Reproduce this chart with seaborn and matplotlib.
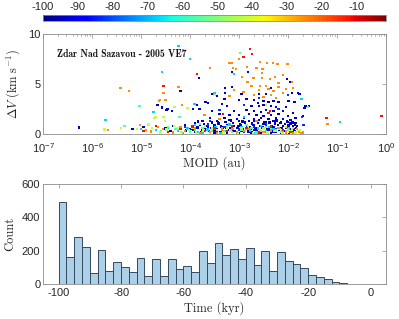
import numpy as np
import pandas as pd
import matplotlib
matplotlib.use('Agg')
import matplotlib.pyplot as plt
import seaborn as sns

# ---- scatter data: log10(MOID [au]), dV [km/s], grouped by time colour ----
# dark blue (~ -94 kyr)
dblue_lm = [-6.27, -5.18, -4.95, -4.67, -4.58, -4.46, -4.37, -4.58, -4.48, -4.2, -3.82, -3.94,
            -3.29, -3.15, -3.15, -3.29, -3.69, -3.63, -3.81, -3.86, -3.54, -3.45, -3.3, -3.35,
            -3.25, -2.82, -2.03, -1.95, -2.35, -2.6, -2.45, -2.95, -1.92, -1.8, -1.77, -3.0,
            -2.85, -2.7, -2.62, -2.5, -2.4, -2.3, -2.2, -1.99, -1.87, -2.75, -2.6, -2.5, -2.35,
            -2.25, -2.05, -1.67, -1.65, -1.57, -3.55, -3.1, -2.85, -2.7, -2.55, -2.45, -2.3,
            -2.1, -1.9, -1.7, -3.4, -3.2, -3.0, -2.8, -2.65, -2.5, -2.35, -2.2, -2.0, -1.85,
            -3.6, -3.3, -3.05, -2.9, -2.7, -2.55, -2.4, -2.25, -2.1, -1.95, -3.75, -3.45, -3.2,
            -3.0, -2.8, -2.6, -2.45, -2.3, -2.15, -2.0, -1.85,
            -3.9, -3.72, -3.55, -3.42, -3.28, -3.12, -2.98, -2.88, -2.74, -2.62, -2.5, -2.38,
            -2.27, -2.16, -2.06, -1.95, -1.86,
            -4.35, -4.1, -3.95, -3.8, -3.66, -3.5, -3.37, -3.24, -3.1, -2.97, -2.84, -2.71,
            -2.58, -2.45, -2.33, -2.21, -2.1, -1.99, -1.9, -1.82,
            -4.5, -4.2, -3.99, -3.85, -3.7, -3.58, -3.45, -3.33, -3.19, -3.05, -2.92, -2.79,
            -2.67, -2.54, -2.42, -2.29, -2.18, -2.04, -1.93, -1.84,
            -4.4, -4.08, -3.9, -3.76, -3.62, -3.48, -3.35, -3.21, -3.08, -2.95, -2.81, -2.69,
            -2.56, -2.43, -2.31, -2.19, -2.07, -1.96, -1.87,
            -3.8, -3.5, -3.25, -3.0, -2.75, -2.55, -2.35, -2.15, -1.98,
            -3.93, -3.78, -3.64, -3.53, -3.39, -3.26, -3.14, -3.02, -2.9, -2.77, -2.65, -2.52,
            -2.4, -2.26, -2.13, -2.0, -1.89,
            -3.84, -3.6, -3.43, -3.17, -2.93, -2.7, -2.48, -2.24, -2.03, -1.91]
dblue_dv = [0.63, 0.5, 0.7, 2.9, 2.7, 2.5, 2.3, 2.6, 2.4, 4.3, 5.6, 2.5,
            4.6, 6.2, 4.7, 4.1, 3.2, 3.1, 2.5, 2.9, 4.0, 3.8, 3.5, 3.0,
            2.8, 6.2, 5.5, 5.2, 4.6, 4.0, 4.0, 4.0, 4.1, 4.1, 4.0, 3.4,
            3.5, 3.4, 3.1, 3.3, 3.2, 3.3, 3.2, 3.3, 3.2, 2.8, 2.8, 2.9, 2.8,
            2.7, 2.7, 2.6, 2.8, 2.8, 2.3, 2.3, 2.4, 2.3, 2.2, 2.4, 2.3,
            2.3, 2.1, 1.8, 2.0, 1.9, 1.9, 2.0, 1.9, 1.8, 1.9, 2.0, 1.8, 1.6,
            1.6, 1.6, 1.5, 1.6, 1.5, 1.6, 1.5, 1.6, 1.5, 1.4, 1.3, 1.3, 1.4,
            1.3, 1.3, 1.4, 1.2, 1.3, 1.2, 1.2, 1.1,
            1.1, 1.0, 1.15, 1.05, 1.2, 1.1, 1.0, 1.15, 1.05, 1.1, 1.0, 1.15,
            1.05, 1.1, 1.0, 1.05, 0.95,
            0.8, 0.85, 0.75, 0.9, 0.8, 0.85, 0.75, 0.9, 0.8, 0.85, 0.75, 0.9,
            0.8, 0.85, 0.75, 0.9, 0.8, 0.85, 0.75, 0.8,
            0.55, 0.6, 0.5, 0.65, 0.55, 0.6, 0.5, 0.65, 0.55, 0.6, 0.5, 0.65,
            0.55, 0.6, 0.5, 0.65, 0.55, 0.6, 0.5, 0.6,
            0.3, 0.35, 0.25, 0.4, 0.3, 0.35, 0.25, 0.4, 0.3, 0.35, 0.25, 0.4,
            0.3, 0.35, 0.25, 0.4, 0.3, 0.35, 0.3,
            0.1, 0.15, 0.05, 0.1, 0.15, 0.05, 0.1, 0.15, 0.1,
            0.45, 0.2, 0.7, 0.4, 0.15, 0.6, 0.35, 0.75, 0.2, 0.5, 0.3, 0.7,
            0.45, 0.2, 0.6, 0.4, 0.5,
            1.25, 1.3, 1.2, 1.35, 1.25, 1.3, 1.2, 1.35, 1.25, 1.15]

# medium blue (~ -83 kyr)
mblue_lm = [-3.6, -3.4, -2.9, -2.6, -2.2, -2.0, -4.1, -3.92, -3.63, -3.3, -3.0, -2.7,
            -2.45, -2.25, -2.02, -1.9, -3.45, -2.9, -1.72, -1.69]
mblue_dv = [1.3, 2.4, 2.9, 3.6, 2.5, 3.9, 0.7, 0.45, 0.95, 0.7, 0.45, 0.7,
            0.95, 0.45, 0.65, 0.2, 0.2, 0.2, 1.7, 0.9]

# cyan (~ -67 kyr)
cyan_lm = [-5.73, -5.0, -4.75, -4.24, -4.0, -4.57, -3.91, -3.5, -1.73, -0.94, -3.1, -2.9,
           -4.7, -4.45, -4.25, -4.05, -3.85, -3.65, -3.48, -3.3, -3.12, -2.95, -2.78,
           -2.62, -2.45, -2.3, -2.12, -1.98, -3.9, -3.2, -2.55,
           -4.15, -3.95, -3.75, -3.55, -3.38, -3.05, -2.85, -2.68, -2.38, -2.2, -2.05]
cyan_dv = [1.4, 0.5, 2.2, 8.8, 7.5, 6.2, 3.0, 4.05, 3.5, 1.2, 6.0, 1.7,
           0.4, 0.65, 0.3, 0.55, 0.2, 0.45, 0.7, 0.3, 0.5, 0.7, 0.35,
           0.55, 0.25, 0.5, 0.3, 0.55, 0.9, 0.95, 0.8,
           0.1, 0.65, 0.15, 0.6, 0.1, 0.15, 0.55, 0.1, 0.7, 0.6, 0.15]

# green (~ -55 kyr)
green_lm = [-5.34, -5.03, -4.22, -2.98, -1.59, -4.6, -4.3, -4.0, -3.75, -3.55, -3.35,
            -3.15, -2.95, -2.75, -2.55, -2.35, -2.15, -2.0, -3.8, -2.85,
            -4.45, -3.9, -3.45, -3.25, -2.65, -2.45, -2.25, -1.9]
green_dv = [0.8, 2.8, 1.7, 8.1, 2.7, 0.3, 0.5, 0.25, 0.6, 0.35, 0.55,
            0.2, 0.4, 0.6, 0.3, 0.5, 0.2, 0.45, 1.0, 0.9,
            0.7, 0.45, 0.1, 0.8, 0.15, 0.7, 0.35, 0.6]

# yellow (~ -42 kyr)
yellow_lm = [-5.75, -5.41, -5.09, -4.85, -4.71, -4.54, -4.05, -4.32, -4.73, -4.51, -3.49,
             -2.45, -4.9, -4.78, -4.62, -4.48, -4.33, -4.18, -4.02, -3.88, -3.73, -3.6,
             -3.45, -3.32, -3.18, -3.02, -2.88, -2.72, -2.58, -2.42, -2.28, -2.12, -1.97,
             -1.85, -1.76, -1.72, -3.7, -2.95,
             -4.25, -3.95, -3.55, -3.25, -2.82, -2.5, -2.18, -2.05, -1.92, -1.8]
yellow_dv = [0.45, 0.6, 0.5, 0.95, 1.7, 1.7, 2.6, 2.7, 1.6, 1.3, 3.9,
             2.9, 0.35, 0.6, 0.15, 0.45, 0.8, 0.2, 0.4, 0.15, 0.35, 0.1,
             0.4, 0.15, 0.35, 0.1, 0.3, 0.1, 0.4, 0.15, 0.3, 0.1, 0.25,
             0.15, 0.4, 0.1, 0.75, 0.6,
             0.55, 0.65, 0.55, 0.6, 0.65, 0.55, 0.5, 0.7, 0.45, 0.3]

# orange (~ -25 kyr)
orange_lm = [-5.67, -5.42, -5.25, -5.02, -4.9, -4.63, -4.5, -4.61, -4.54, -4.24, -4.17,
             -3.71, -3.59, -3.2, -3.0, -3.16, -3.12, -3.06, -2.84, -2.57, -2.43, -2.31,
             -2.22, -2.01, -2.65, -2.52, -2.54, -2.94, -2.71, -2.54, -2.37, -2.27, -2.1,
             -2.83, -2.2, -2.57, -2.4, -2.91, -2.35, -2.1, -1.92,
             -3.1, -2.75, -2.6, -2.45, -2.3, -2.2, -2.05, -2.7, -2.5, -2.25, -3.2, -1.9,
             -4.8, -4.55, -4.35, -4.1, -3.9, -3.6, -3.35, -3.05, -2.8, -2.5, -2.2, -1.9,
             -1.78, -1.74, -2.65, -3.4, -1.2,
             -4.65, -4.2, -3.8, -3.45, -3.15, -2.9, -2.62, -2.35, -2.05, -1.82, -1.7]
orange_dv = [0.4, 4.6, 4.3, 0.9, 0.4, 3.3, 3.4, 3.4, 4.1, 4.7, 2.9,
             1.9, 6.6, 7.1, 7.5, 7.1, 6.6, 6.5, 6.7, 7.2, 7.1, 7.1,
             7.0, 7.0, 6.6, 6.5, 6.1, 5.7, 5.6, 5.6, 5.5, 5.7, 5.9,
             5.2, 5.1, 4.8, 4.5, 4.2, 3.9, 4.1, 5.2,
             4.4, 4.8, 4.4, 4.8, 4.3, 4.7, 4.5, 3.9, 3.7, 3.6, 3.8, 4.6,
             0.25, 0.5, 0.15, 0.3, 0.55, 0.2, 0.45, 0.2, 0.5, 0.2, 0.6, 0.05,
             0.2, 0.05, 1.3, 1.5, 1.0,
             0.7, 0.65, 0.1, 0.1, 0.55, 0.3, 0.1, 0.35, 0.25, 0.5, 0.15]

# red (~ -12 kyr)
red_lm = [-4.95, -4.7, -4.54, -3.86, -2.78, -2.74, -2.91, -2.4, -3.33, -2.37, -1.22,
          -0.1, -4.2, -3.7, -3.15, -2.6, -2.1, -3.5,
          -4.45, -3.95, -3.25, -2.85, -2.35, -1.95]
red_dv = [0.3, 0.8, 4.8, 6.0, 8.5, 8.0, 7.7, 2.1, 2.0, 2.3, 1.6,
          1.8, 0.5, 0.3, 0.75, 0.15, 0.4, 0.55,
          0.2, 0.75, 0.3, 0.6, 0.75, 0.2]

group_time = {'dblue': -94, 'mblue': -83, 'cyan': -67, 'green': -55,
              'yellow': -42, 'orange': -25, 'red': -12}

# ---- histogram of encounter times (2.5 kyr bins, -100 .. 0) ----
bin_left = [-100 + 2.5 * i for i in range(40)]
time_counts = [495, 164, 282, 221, 63, 203, 77, 130, 103, 69, 154, 49, 148, 49, 148, 89,
               109, 69, 197, 126, 245, 172, 209, 148, 215, 111, 197, 75, 191, 138, 118, 93,
               51, 43, 30, 14, 4, 1, 1, 0]

groups = [('dblue', dblue_lm, dblue_dv), ('mblue', mblue_lm, mblue_dv),
          ('cyan', cyan_lm, cyan_dv), ('green', green_lm, green_dv),
          ('yellow', yellow_lm, yellow_dv), ('orange', orange_lm, orange_dv),
          ('red', red_lm, red_dv)]
frames = []
for name, lm, dv in groups:
    frames.append(pd.DataFrame({'moid': 10.0 ** np.array(lm), 'dv': dv,
                                'time': group_time[name]}))
df = pd.concat(frames, ignore_index=True)

hist_df = pd.DataFrame({'time': np.array(bin_left) + 1.25, 'count': time_counts})
bin_edges = bin_left + [0.0]

sns.set_theme(style='white')
plt.rcParams['font.family'] = ['Liberation Sans', 'DejaVu Sans']
plt.rcParams['mathtext.fontset'] = 'custom'
plt.rcParams['mathtext.rm'] = 'Liberation Sans'
plt.rcParams['mathtext.it'] = 'Liberation Sans:italic'
plt.rcParams['mathtext.bf'] = 'Liberation Sans:bold'
plt.rcParams['axes.unicode_minus'] = False

edge_col = '#8c8c8c'
txt_col = '#262626'
label_kw = dict(fontfamily='cmr10', math_fontfamily='cm', fontsize=9, color=txt_col)
jet = plt.get_cmap('jet')

fig = plt.figure(figsize=(3.99, 3.19), dpi=100)
ax1 = fig.add_axes([0.108, 0.580, 0.860, 0.313])
ax2 = fig.add_axes([0.108, 0.110, 0.860, 0.313])
cax = fig.add_axes([0.108, 0.934, 0.860, 0.019])

cmin, cmax = -100, -1.4
sns.scatterplot(data=df, x='moid', y='dv', hue='time', palette=jet,
                hue_norm=(cmin, cmax), marker='s', s=3, linewidth=0,
                legend=False, ax=ax1)
ax1.set_xscale('log')
ax1.set_xlim(1e-7, 1)
ax1.set_ylim(0, 10)
ax1.set_yticks([0, 5, 10])
ax1.set_xticks([10.0 ** k for k in range(-7, 1)])
ax1.set_xlabel('MOID (au)', labelpad=1, **label_kw)
ax1.set_ylabel(r'$\Delta V\ (\mathrm{km\ s^{-1}})$', labelpad=4, **label_kw)
ax1.text(1.9e-7, 8.0, 'Zdar Nad Sazavou - 2005 VE7', fontfamily='cmb10',
         fontsize=7, color='#111111', va='center')

sm = plt.cm.ScalarMappable(cmap=jet, norm=plt.Normalize(cmin, cmax))
cb = fig.colorbar(sm, cax=cax, orientation='horizontal')
cb.set_ticks(list(range(-100, 0, 10)))
cax.xaxis.set_ticks_position('top')
cax.tick_params(axis='x', direction='in', length=2, width=0.5, color=edge_col,
                labelsize=8, labelcolor=txt_col, pad=2)
cb.outline.set_edgecolor(edge_col)
cb.outline.set_linewidth(0.6)

sns.histplot(data=hist_df, x='time', weights='count', bins=bin_edges,
             color='#abd0e8', edgecolor='#34495e', linewidth=0.7, alpha=1, ax=ax2)
ax2.set_xlim(-105, 5)
ax2.set_ylim(0, 600)
ax2.set_xticks([-100, -80, -60, -40, -20, 0])
ax2.set_yticks([0, 200, 400, 600])
ax2.set_xlabel('Time (kyr)', labelpad=2, **label_kw)
ax2.set_ylabel('Count', labelpad=4, **label_kw)

for ax in (ax1, ax2):
    for sp in ax.spines.values():
        sp.set_color(edge_col)
        sp.set_linewidth(0.6)
    ax.tick_params(which='both', direction='in', top=True, right=True,
                   color=edge_col, width=0.5, labelsize=8, labelcolor=txt_col)
    ax.tick_params(which='major', length=3)
    ax.tick_params(which='minor', length=1.5)
    ax.tick_params(axis='y', pad=2)
    ax.tick_params(axis='x', pad=3)
ax1.tick_params(axis='x', pad=5)
ax2.minorticks_off()

fig.savefig('out.png', dpi=100)
